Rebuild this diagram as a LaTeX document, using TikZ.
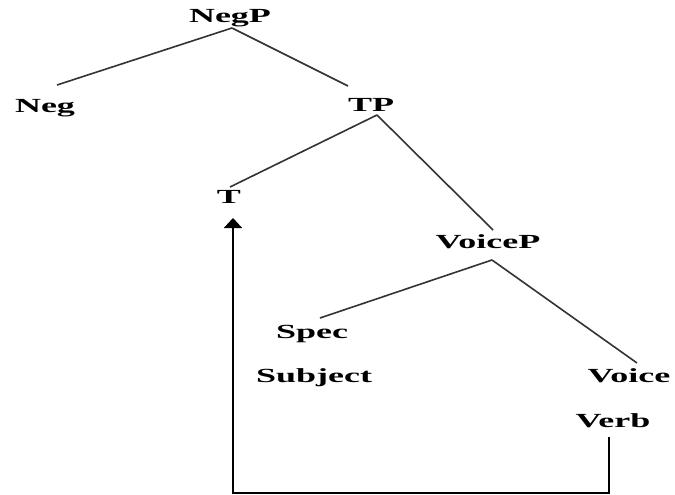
\documentclass[tikz,border=0pt]{standalone}
\usepackage{fontspec}
\usetikzlibrary{arrows.meta}
\newfontfamily\lblfont{Liberation Serif}[FakeStretch=1.8]
\begin{document}
\begin{tikzpicture}[x=1pt,y=-1pt,
  lbl/.style={font=\lblfont\bfseries\fontsize{20}{22}\selectfont, inner sep=0pt, anchor=base},
  branch/.style={line width=1.6pt, draw=black!80},
  movement/.style={line width=2pt, -{Triangle[length=10pt,width=18pt]}}]
\useasboundingbox (0,0) rectangle (675,495);

% labels of the tree
\node[lbl] (negp)   at (230,23)  {NegP};
\node[lbl] (neg)    at (45,113)  {Neg};
\node[lbl] (tp)     at (371,111) {TP};
\node[lbl] (t)      at (229,203) {T};
\node[lbl] (voicep) at (488,248) {VoiceP};
\node[lbl] (spec)   at (312,338) {Spec};
\node[lbl] (subj)   at (314,382) {Subject};
\node[lbl] (voice)  at (629,382) {Voice};
\node[lbl] (verb)   at (613,427) {Verb};

% branches
\draw[branch] ([shift={(2,5)}]negp.base) -- ([shift={(12,-28)}]neg.base);
\draw[branch] ([shift={(2,5)}]negp.base) -- ([shift={(-23,-25)}]tp.base);
\draw[branch] ([shift={(6,4)}]tp.base) -- ([shift={(1,-16)}]t.base);
\draw[branch] ([shift={(6,4)}]tp.base) -- ([shift={(5,-18)}]voicep.base);
\draw[branch] ([shift={(4,12)}]voicep.base) -- ([shift={(8,-20)}]spec.base);
\draw[branch] ([shift={(4,12)}]voicep.base) -- ([shift={(8,-19)}]voice.base);

% verb movement to T
\draw[movement] ([shift={(-4,10)}]verb.base) -- ++(0,56) -| ([shift={(4,15)}]t.base);
\end{tikzpicture}
\end{document}
